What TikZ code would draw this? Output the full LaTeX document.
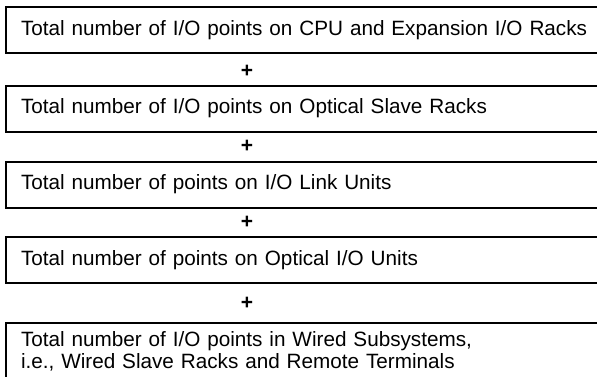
\documentclass[tikz,border=0pt]{standalone}
\usepackage{fontspec}
\setmainfont{Liberation Sans}
\tikzstyle{total} = [rectangle, draw=black, line width=1pt, text width=300pt, align=left, inner xsep=7.75pt, minimum height=23pt, font=\fontsize{10.35pt}{10.7pt}\selectfont]
\tikzstyle{plus} = [inner sep=0pt, font=\bfseries\fontsize{10.5pt}{12pt}\selectfont]

\begin{document}
\begin{tikzpicture}[node distance=38pt]
\useasboundingbox (0,0) rectangle (298.5pt,188pt);
\clip (0,0) rectangle (298.5pt,188pt);
\node (racks) [total] at (160.5pt,173pt) {Total number of I/O points on CPU and Expansion I/O Racks};
\node (optslave) [total, below of=racks, yshift=-1.25pt] {Total number of I/O points on Optical Slave Racks};
\node (iolink) [total, below of=optslave] {Total number of points on I/O Link Units};
\node (optio) [total, below of=iolink, yshift=0.25pt] {Total number of points on Optical I/O Units};
\node (wired) [total, below of=optio, yshift=-7.75pt, minimum height=28.5pt] {Total number of I/O points in Wired Subsystems,\\i.e., Wired Slave Racks and Remote Terminals};
% plus signs between the boxes
\node (plus1) [plus, below of=racks, node distance=20.5pt, xshift=-37pt] {+};
\node (plus2) [plus, below of=optslave, node distance=18.75pt, xshift=-37pt] {+};
\node (plus3) [plus, below of=iolink, node distance=18.75pt, xshift=-37pt] {+};
\node (plus4) [plus, below of=optio, node distance=21.5pt, xshift=-37pt] {+};
\end{tikzpicture}
\end{document}
